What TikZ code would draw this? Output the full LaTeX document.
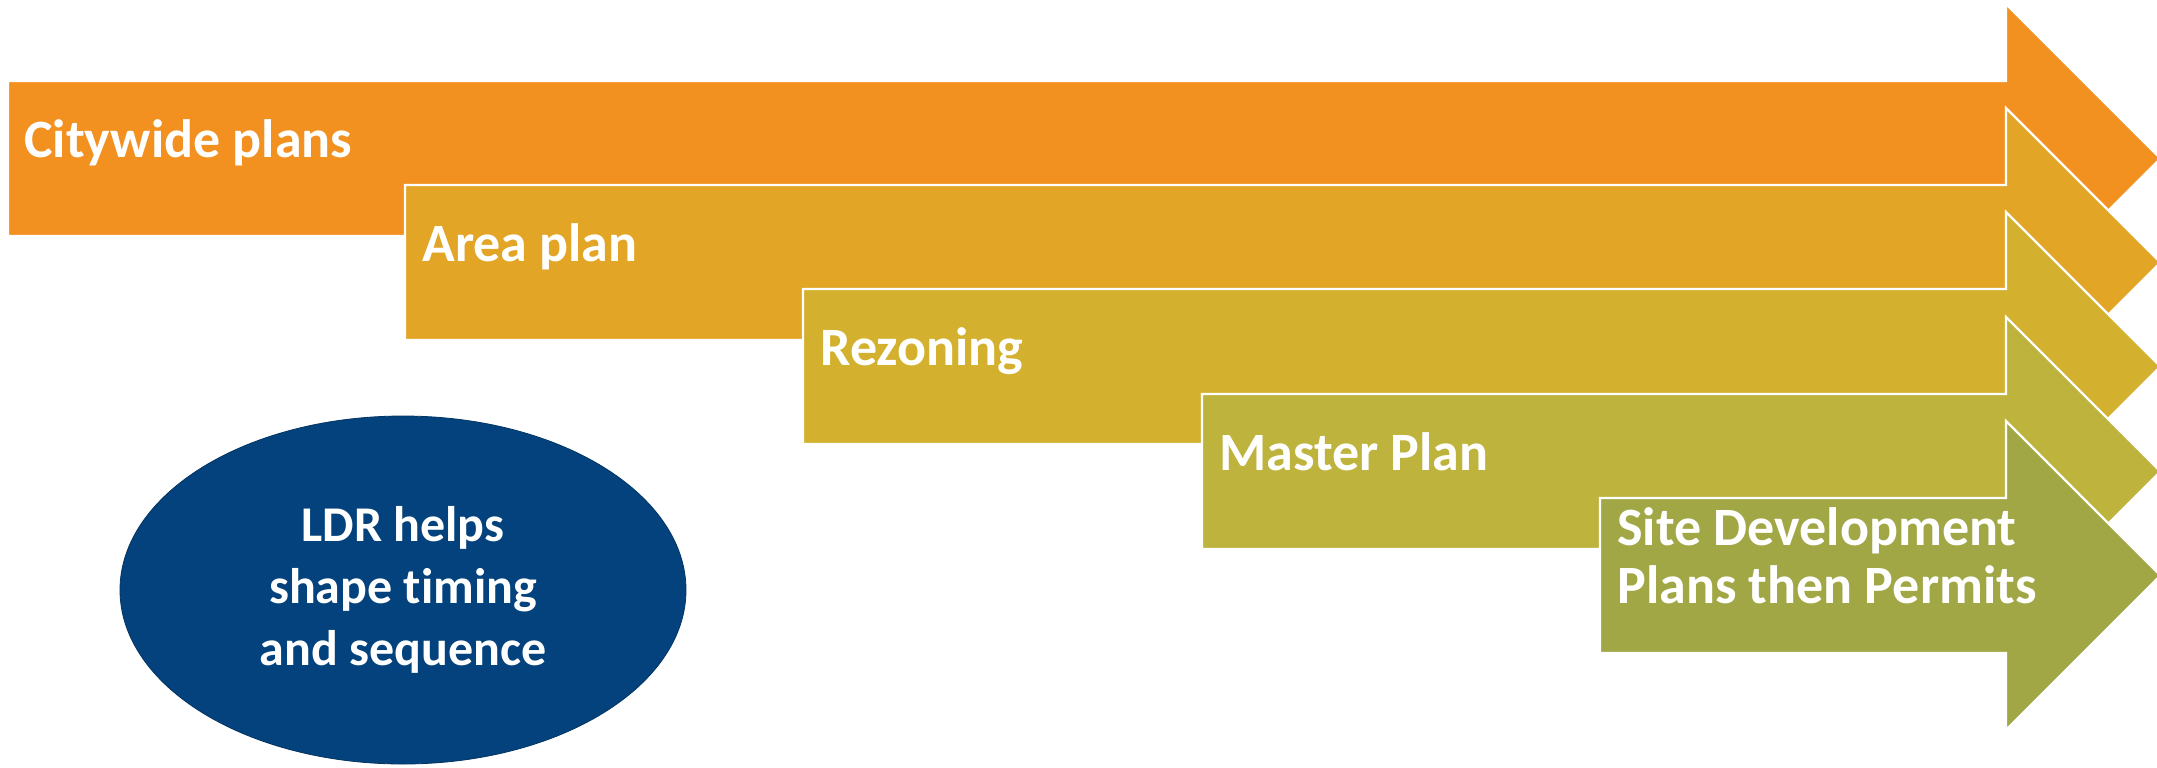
\documentclass[tikz,border=0pt]{standalone}
\usepackage{fontspec}
\setmainfont{Carlito}[Ligatures = NoCommon]
\usepackage{tikz}
\usetikzlibrary{shapes.geometric}

\definecolor{citycol}{HTML}{F29020}
\definecolor{areacol}{HTML}{E2A526}
\definecolor{rezonecol}{HTML}{D3B12E}
\definecolor{mastercol}{HTML}{BEB33C}
\definecolor{sitecol}{HTML}{A2A746}
\definecolor{ldrcol}{HTML}{03427C}

\tikzset{
  planarrow/.style = {draw = white, line width = 1.1pt, line join = miter},
  planlabel/.style = {anchor = base west, text = white, inner sep = 0pt,
    font = \fontsize{27}{29}\selectfont\bfseries}
}

\begin{document}
\begin{tikzpicture}[x = 0.5pt, y = -0.5pt]
				\useasboundingbox (0,0) rectangle (2157,767);
				% the five stacked arrows, drawn back to front
				\filldraw[planarrow, fill = citycol] (8,81) -- (2006,81) -- ++(0,-77) -- ++(154.5,154.5) -- ++(-154.5,154.5) -- ++(0,-77) -- (8,236) -- cycle;
				\filldraw[planarrow, fill = areacol] (405,185) -- (2006,185) -- ++(0,-77) -- ++(154.5,154.5) -- ++(-154.5,154.5) -- ++(0,-77) -- (405,340) -- cycle;
				\filldraw[planarrow, fill = rezonecol] (803,289) -- (2006,289) -- ++(0,-77) -- ++(154.5,154.5) -- ++(-154.5,154.5) -- ++(0,-77) -- (803,444) -- cycle;
				\filldraw[planarrow, fill = mastercol] (1202,394) -- (2006,394) -- ++(0,-77) -- ++(154.5,154.5) -- ++(-154.5,154.5) -- ++(0,-77) -- (1202,549) -- cycle;
				\filldraw[planarrow, fill = sitecol] (1600,498) -- (2006,498) -- ++(0,-77) -- ++(154.5,154.5) -- ++(-154.5,154.5) -- ++(0,-77) -- (1600,653) -- cycle;
				\node[planlabel] (city) at (24,157) {Citywide plans};
				\node[planlabel] (area) at (422,261) {Area plan};
				\node[planlabel] (rezone) at (820,365) {Rezoning};
				\node[planlabel] (master) at (1219,470) {Master Plan};
				\node[planlabel] (site) at (1617,545) {Site Development};
				\node[planlabel] (permits) at (1617,603) {Plans then Permits};
				% LDR bubble
				\node[ellipse, fill = ldrcol, draw = ldrcol!80!black, thin, text = white, inner sep = 0pt,
				      minimum width = 283pt, minimum height = 174pt, align = center,
				      font = \fontsize{25}{31}\selectfont\bfseries] (ldr) at (403,590) {LDR helps\\ shape timing\\ and sequence};
			\end{tikzpicture}
\end{document}
